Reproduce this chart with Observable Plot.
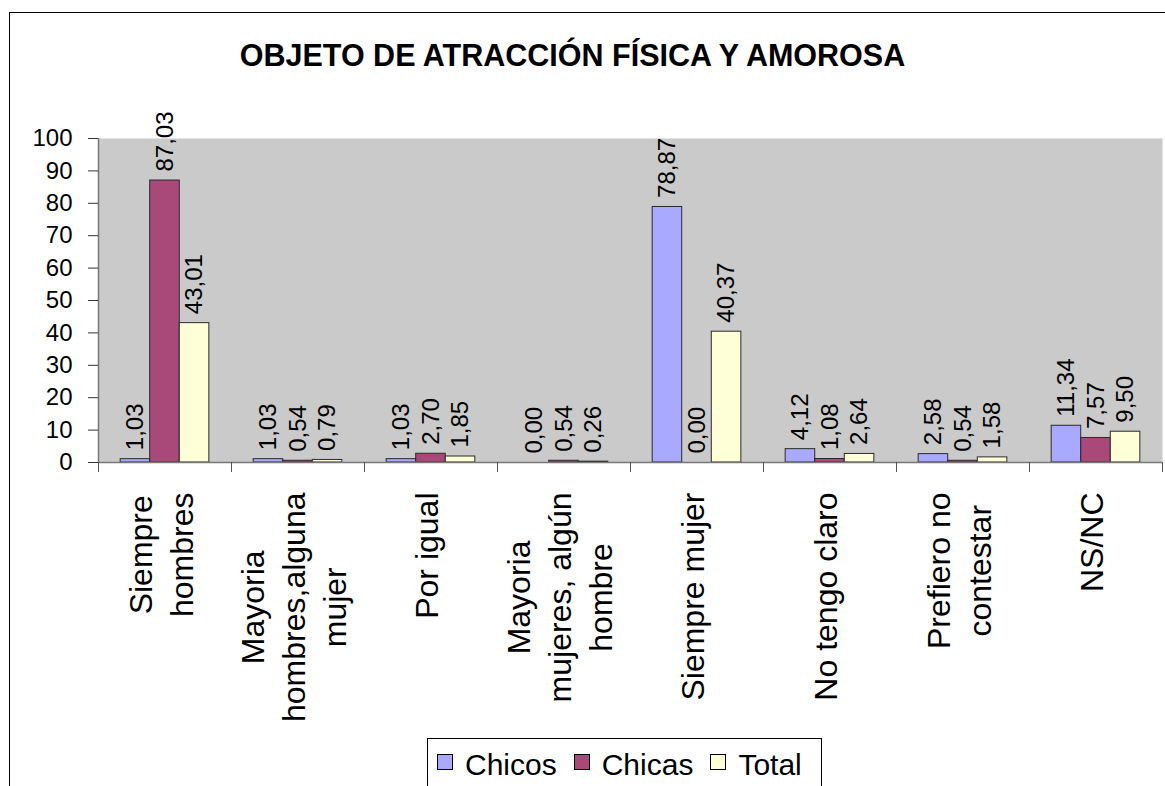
<!DOCTYPE html>
<html>
<head>
<meta charset="utf-8">
<script src="https://cdn.jsdelivr.net/npm/d3@7"></script>
<script src="https://cdn.jsdelivr.net/npm/@observablehq/plot@0.6"></script>
<style>
  html, body { margin: 0; padding: 0; background: #fff; overflow: hidden; }
  body { width: 1165px; height: 786px; position: relative; font-family: "Liberation Sans", Arial, sans-serif; }
  #chart { position: absolute; left: 9px; top: 12px; width: 1220px; height: 820px; border: 1px solid #000; box-sizing: border-box; }
  #title { height: 77px; width: 1125px; box-sizing: border-box; padding-top: 27px; text-align: center;
           font: bold 30.5px/30px "Liberation Sans", Arial, sans-serif; color: #000; white-space: nowrap; }
  #plot svg { display: block; }
  #legend { margin-top: 3px; margin-left: 417px; width: 395px; height: 70px; border: 1px solid #000; box-sizing: border-box;
            display: flex; align-items: flex-start; padding: 9px 0 0 9px; font-size: 30px; color: #000; }
  .item { display: flex; align-items: center; height: 34px; line-height: 34px; margin-right: 17px; white-space: nowrap; }
  .sw { width: 16px; height: 16px; border: 1px solid #000; box-sizing: border-box; margin-right: 12px; position: relative; top: -3px; }
</style>
</head>
<body>
<div id="chart">
  <div id="title">OBJETO DE ATRACCIÓN FÍSICA Y AMOROSA</div>
  <div id="plot"></div>
  <div id="legend"></div>
</div>
<script>
// ---- data ----
const categories = [
  "Siempre\nhombres",
  "Mayoria\nhombres,alguna\nmujer",
  "Por igual",
  "Mayoria\nmujeres, algún\nhombre",
  "Siempre mujer",
  "No tengo claro",
  "Prefiero no\ncontestar",
  "NS/NC"
];
const seriesNames = ["Chicos", "Chicas", "Total"];
const chicos = [1.03, 1.03, 1.03, 0.00, 78.87, 4.12, 2.58, 11.34];
const chicas = [87.03, 0.54, 2.70, 0.54, 0.00, 1.08, 0.54, 7.57];
const total  = [43.01, 0.79, 1.85, 0.26, 40.37, 2.64, 1.58, 9.50];
const yTicks = [0, 10, 20, 30, 40, 50, 60, 70, 80, 90, 100];
const seriesColors = ["#a9a9ff", "#a8497a", "#ffffd7"];

// ---- table built from the arrays ----
const seriesValues = [chicos, chicas, total];
const rows = [];
categories.forEach((cat, ci) => {
  seriesNames.forEach((s, si) => {
    rows.push({cat, ci, series: s, si, value: seriesValues[si][ci]});
  });
});

// Excel-style clustered bars: gap width 150% → each category is 4.5 bar widths
const slots = seriesNames.length + 1.5;
const lead = 0.75;
const fmt = v => d3.format(".2f")(v).replace(".", ",");

const FONT = '"Liberation Sans", Arial, sans-serif';
const catFontSize = 32;
const ctx = document.createElement("canvas").getContext("2d");
ctx.font = `${catFontSize}px "Liberation Sans", Arial, sans-serif`;
const longest = label => d3.max(label.split("\n"), l => ctx.measureText(l).width);

const categoryMarks = categories.map((cat, ci) =>
  Plot.text([cat], {
    x: () => ci + 0.5,
    frameAnchor: "bottom",
    text: d => d,
    rotate: -90,
    textAnchor: "middle",
    lineAnchor: "middle",
    lineHeight: 1.28,
    fontSize: catFontSize,
    fill: "#000",
    dx: -6,
    dy: 30 + longest(cat) / 2
  })
);

const chart = Plot.plot({
  width: 1155,
  height: 645,
  marginLeft: 88,
  marginRight: 3,
  marginTop: 48,
  marginBottom: 273,
  style: {fontFamily: FONT, background: "transparent", overflow: "visible"},
  x: {domain: [0, categories.length], label: null},
  y: {domain: [0, 100], label: null},
  color: {domain: seriesNames, range: seriesColors},
  marks: [
    Plot.frame({fill: "#cacaca", stroke: null}),
    Plot.rectY(rows, {
      x1: d => d.ci + (lead + d.si) / slots,
      x2: d => d.ci + (lead + d.si + 1) / slots,
      y: "value",
      fill: "series",
      stroke: "#2a2a2a",
      strokeWidth: 1
    }),
    Plot.text(rows, {
      x: d => d.ci + (lead + d.si + 0.5) / slots,
      y: "value",
      text: d => fmt(d.value),
      rotate: -90,
      textAnchor: "start",
      lineAnchor: "middle",
      dy: -9,
      fontSize: 24,
      fill: "#000"
    }),
    Plot.ruleY([0], {stroke: "#777", strokeWidth: 1.5}),
    Plot.ruleX([0], {stroke: "#777", strokeWidth: 1.5}),
    Plot.axisY({ticks: yTicks, tickSize: 10, tickPadding: 16, fontSize: 24, tickFormat: d => String(d), color: "#000", stroke: "#333", label: null}),
    Plot.axisX({ticks: d3.range(categories.length + 1), tickSize: 10, tickFormat: () => "", stroke: "#555", label: null}),
    ...categoryMarks
  ]
});
document.getElementById("plot").appendChild(chart);

// ---- legend ----
const legend = document.getElementById("legend");
seriesNames.forEach((s, i) => {
  const item = document.createElement("div");
  item.className = "item";
  const sw = document.createElement("div");
  sw.className = "sw";
  sw.style.background = seriesColors[i];
  const t = document.createElement("span");
  t.textContent = s;
  item.appendChild(sw);
  item.appendChild(t);
  legend.appendChild(item);
});
</script>
</body>
</html>
